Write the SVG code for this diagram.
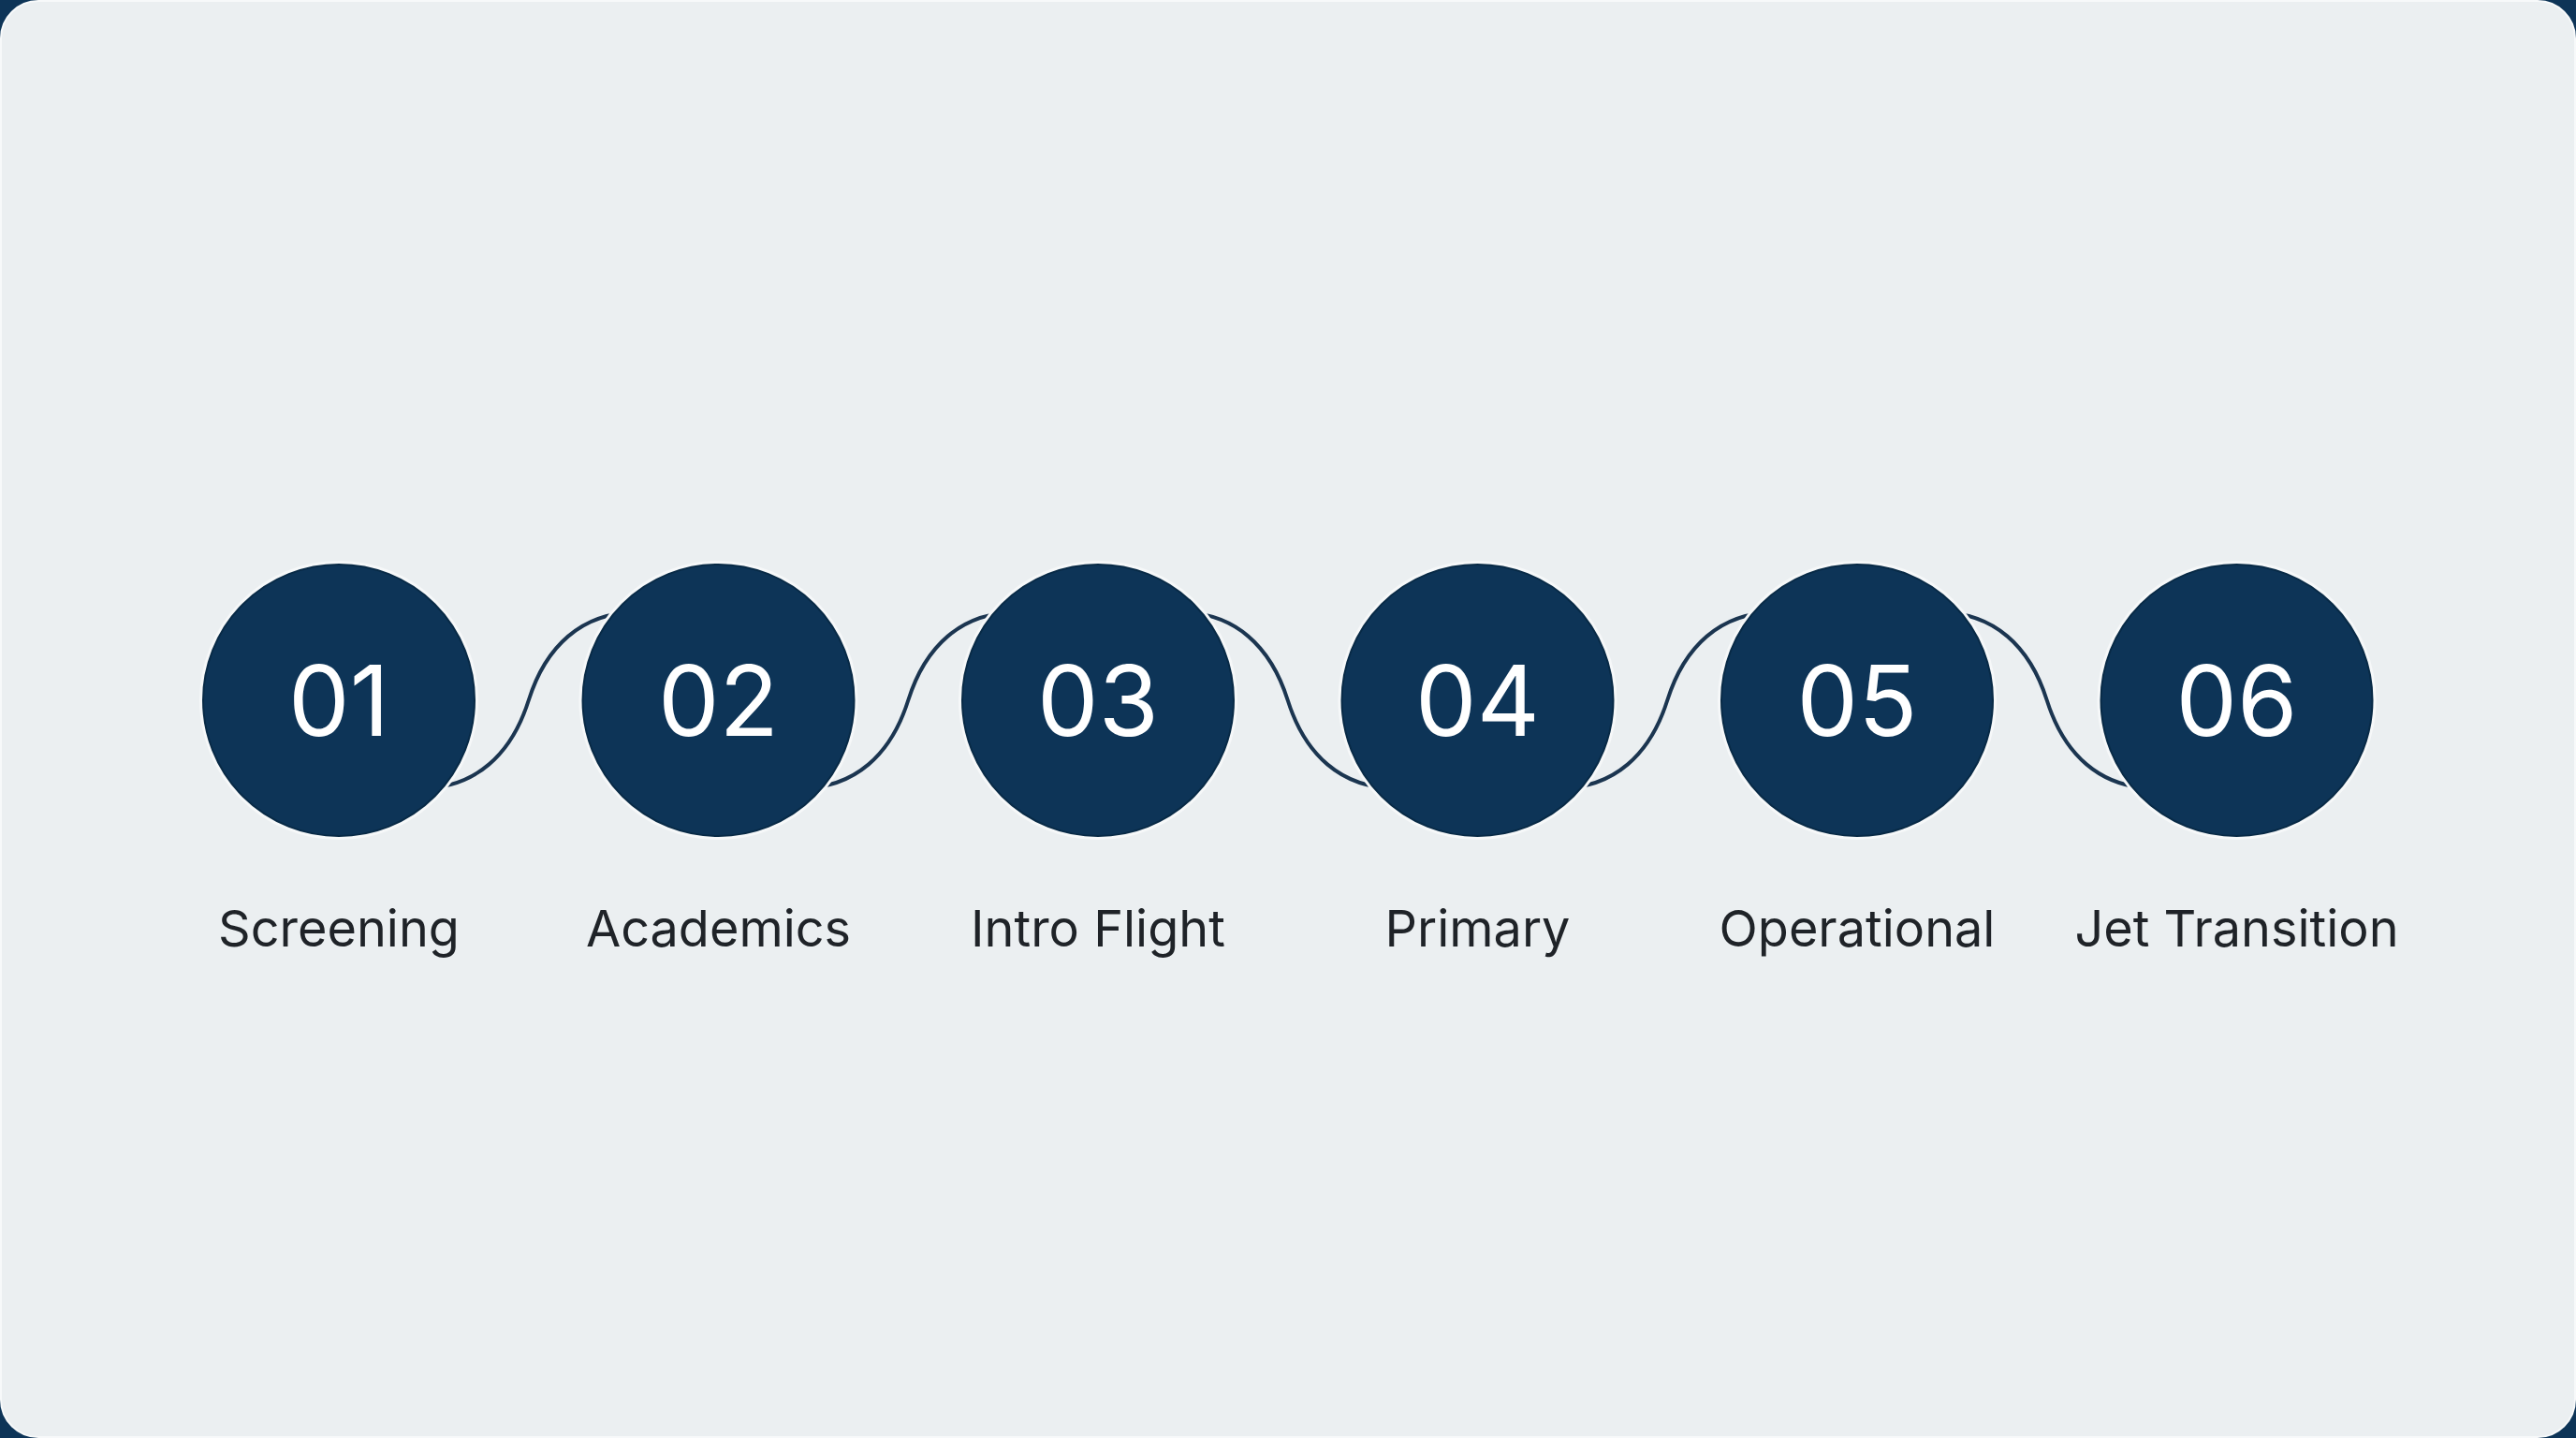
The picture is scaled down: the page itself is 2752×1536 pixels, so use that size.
<svg xmlns="http://www.w3.org/2000/svg" width="2752" height="1536" viewBox="0 0 2752 1536">
  <style>
    .halo { fill: #f6f8f9; }
    .disc { fill: #0d3457; stroke: #082a46; stroke-width: 2; }
    .num { font-family: Inter, "Liberation Sans", sans-serif; font-size: 104px; fill: #ffffff; text-anchor: middle; }
    .lbl { font-family: Inter, "Liberation Sans", sans-serif; font-size: 54px; fill: #1f2328; text-anchor: middle; }
    .wire { fill: none; stroke: #1b3550; stroke-width: 4; stroke-linecap: round; }
  </style>
  <rect x="0" y="0" width="2752" height="1536" fill="#0d3457"/>
  <rect x="1" y="1" width="2750" height="1534" rx="40" ry="40" fill="#ebeff1" stroke="#f7f9fa" stroke-width="2"/>

  <g id="connectors">
    <path class="wire" d="M 448.75,842 C 508.75,842 546.75,805 564.75,748 S 620.75,654 680.75,654"/>
    <path class="wire" d="M 854.25,842 C 914.25,842 952.25,805 970.25,748 S 1026.25,654 1086.25,654"/>
    <path class="wire" d="M 1259.75,654 C 1319.75,654 1357.75,691 1375.75,748 S 1431.75,842 1491.75,842"/>
    <path class="wire" d="M 1665.25,842 C 1725.25,842 1763.25,805 1781.25,748 S 1837.25,654 1897.25,654"/>
    <path class="wire" d="M 2070.75,654 C 2130.75,654 2168.75,691 2186.75,748 S 2242.75,842 2302.75,842"/>
  </g>

  <g id="node-01">
    <circle class="halo" cx="362" cy="748" r="149"/>
    <circle class="disc" cx="362" cy="748" r="145"/>
    <text class="num" x="362" y="786">01</text>
    <text class="lbl" x="362" y="1011">Screening</text>
  </g>
  <g id="node-02">
    <circle class="halo" cx="767.5" cy="748" r="149"/>
    <circle class="disc" cx="767.5" cy="748" r="145"/>
    <text class="num" x="767.5" y="786">02</text>
    <text class="lbl" x="767.5" y="1011">Academics</text>
  </g>
  <g id="node-03">
    <circle class="halo" cx="1173" cy="748" r="149"/>
    <circle class="disc" cx="1173" cy="748" r="145"/>
    <text class="num" x="1173" y="786">03</text>
    <text class="lbl" x="1173" y="1011">Intro Flight</text>
  </g>
  <g id="node-04">
    <circle class="halo" cx="1578.5" cy="748" r="149"/>
    <circle class="disc" cx="1578.5" cy="748" r="145"/>
    <text class="num" x="1578.5" y="786">04</text>
    <text class="lbl" x="1578.5" y="1011">Primary</text>
  </g>
  <g id="node-05">
    <circle class="halo" cx="1984" cy="748" r="149"/>
    <circle class="disc" cx="1984" cy="748" r="145"/>
    <text class="num" x="1984" y="786">05</text>
    <text class="lbl" x="1984" y="1011">Operational</text>
  </g>
  <g id="node-06">
    <circle class="halo" cx="2389.5" cy="748" r="149"/>
    <circle class="disc" cx="2389.5" cy="748" r="145"/>
    <text class="num" x="2389.5" y="786">06</text>
    <text class="lbl" x="2389.5" y="1011">Jet Transition</text>
  </g>
</svg>
